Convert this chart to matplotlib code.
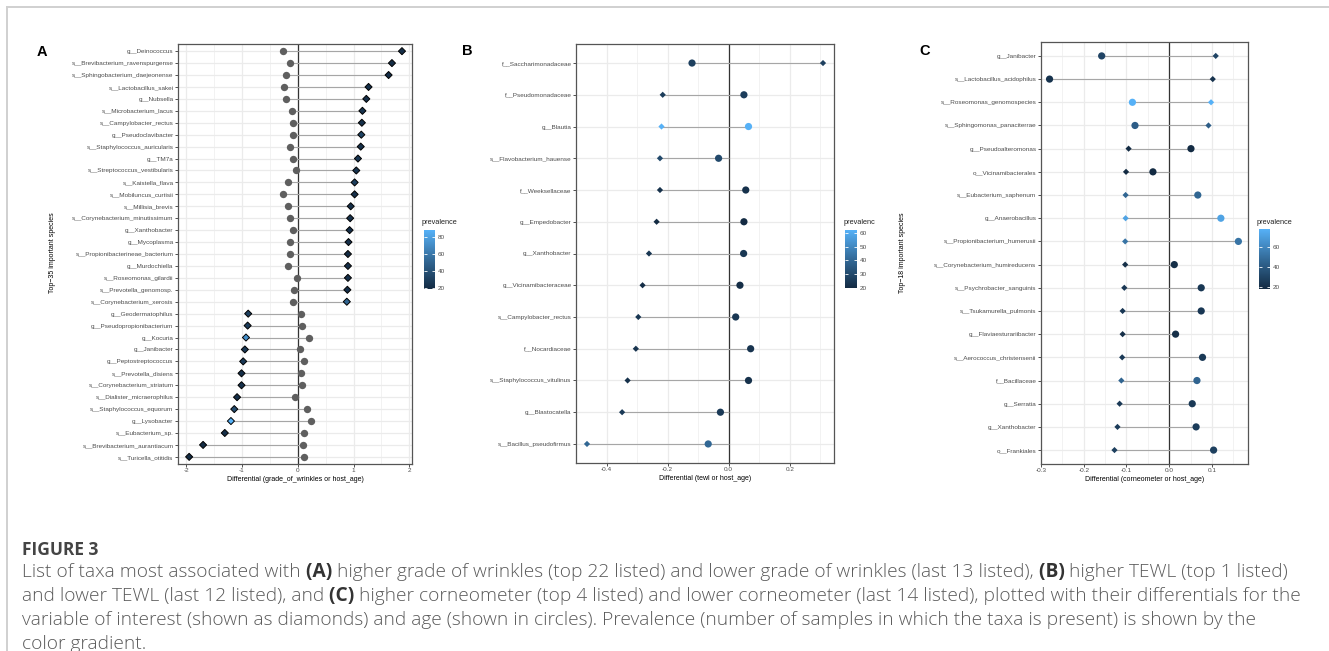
import matplotlib
matplotlib.use("Agg")
import matplotlib.pyplot as plt
import numpy as np
from matplotlib.colors import LinearSegmentedColormap, Normalize
from matplotlib.colorbar import ColorbarBase
from matplotlib.lines import Line2D

# ---------------- data ----------------
a_taxa = ["g__Deinococcus", "s__Brevibacterium_ravenspurgense", "s__Sphingobacterium_daejeonense",
          "s__Lactobacillus_sakei", "g__Nubsella", "s__Microbacterium_lacus", "s__Campylobacter_rectus",
          "g__Pseudoclavibacter", "s__Staphylococcus_auricularis", "g__TM7a",
          "s__Streptococcus_vestibularis", "s__Kaistella_flava", "s__Mobiluncus_curtisii",
          "s__Millisia_brevis", "s__Corynebacterium_minutissimum", "g__Xanthobacter", "g__Mycoplasma",
          "s__Propionibacterineae_bacterium", "g__Murdochiella", "s__Roseomonas_gilardii",
          "s__Prevotella_genomosp.", "s__Corynebacterium_xerosis", "g__Geodermatophilus",
          "g__Pseudopropionibacterium", "g__Kocuria", "g__Janibacter", "g__Peptostreptococcus",
          "s__Prevotella_disiens", "s__Corynebacterium_striatum", "s__Dialister_micraerophilus",
          "s__Staphylococcus_equorum", "g__Lysobacter", "s__Eubacterium_sp.",
          "s__Brevibacterium_aurantiacum", "s__Turicella_otitidis"]
a_wrinkles = [1.87, 1.69, 1.63, 1.27, 1.23, 1.16, 1.15, 1.14, 1.13, 1.08, 1.05, 1.02, 1.02, 0.95,
              0.94, 0.93, 0.91, 0.90, 0.90, 0.90, 0.89, 0.88, -0.89, -0.90, -0.93, -0.95, -0.98,
              -1.01, -1.01, -1.09, -1.14, -1.20, -1.31, -1.70, -1.95]
a_age = [-0.26, -0.14, -0.21, -0.24, -0.21, -0.10, -0.09, -0.08, -0.14, -0.09, -0.04, -0.18, -0.26,
         -0.17, -0.14, -0.08, -0.14, -0.14, -0.18, -0.02, -0.07, -0.08, 0.05, 0.08, 0.20, 0.04, 0.11,
         0.05, 0.08, -0.05, 0.17, 0.23, 0.12, 0.09, 0.11]
a_prev = [21, 20, 21, 22, 21, 24, 22, 32, 22, 25, 24, 30, 22, 21, 22, 21, 22, 20, 21, 22, 21, 50,
          30, 28, 72, 26, 27, 21, 23, 22, 36, 88, 22, 20, 19]

b_taxa = ["f__Saccharimonadaceae", "f__Pseudomonadaceae", "g__Blautia", "s__Flavobacterium_hauense",
          "f__Weeksellaceae", "g__Empedobacter", "g__Xanthobacter", "g__Vicinamibacteraceae",
          "s__Campylobacter_rectus", "f__Nocardiaceae", "s__Staphylococcus_vitulinus",
          "g__Blastocatella", "s__Bacillus_pseudofirmus"]
b_tewl = [0.309, -0.216, -0.220, -0.225, -0.225, -0.236, -0.261, -0.282, -0.296, -0.304, -0.331,
          -0.349, -0.464]
b_age = [-0.120, 0.050, 0.065, -0.033, 0.056, 0.050, 0.049, 0.037, 0.023, 0.072, 0.065, -0.027, -0.067]
b_prev = [27, 26, 62, 30, 22, 20, 24, 21, 24, 23, 22, 25, 40]

c_taxa = ["g__Janibacter", "s__Lactobacillus_acidophilus", "s__Roseomonas_genomospecies",
          "s__Sphingomonas_panaciterrae", "g__Pseudoalteromonas", "o__Vicinamibacterales",
          "s__Eubacterium_saphenum", "g__Anaerobacillus", "s__Propionibacterium_humerusii",
          "s__Corynebacterium_humireducens", "s__Psychrobacter_sanguinis", "s__Tsukamurella_pulmonis",
          "g__Flaviaesturariibacter", "s__Aerococcus_christensenii", "f__Bacillaceae", "g__Serratia",
          "g__Xanthobacter", "o__Frankiales"]
c_corneo = [0.109, 0.102, 0.098, 0.092, -0.095, -0.101, -0.102, -0.102, -0.103, -0.103, -0.105,
            -0.109, -0.109, -0.110, -0.112, -0.116, -0.121, -0.128]
c_age = [-0.158, -0.280, -0.086, -0.080, 0.051, -0.038, 0.067, 0.121, 0.162, 0.012, 0.075, 0.075,
         0.015, 0.078, 0.065, 0.054, 0.063, 0.104]
c_prev = [30, 22, 78, 42, 18, 18, 46, 72, 52, 20, 24, 24, 20, 25, 45, 25, 26, 28]

# ---------------- style ----------------
W, H = 1329, 651
fig = plt.figure(figsize=(W / 100, H / 100), dpi=100)
plt.rcParams['font.family'] = ['Liberation Sans', 'DejaVu Sans']
cmap = LinearSegmentedColormap.from_list("gg", ["#132B43", "#336A98", "#56B1F7"])

TICK_FS = 4.6
TITLE_FS = 5.0
GRID = "#EBEBEB"


def rect_to_fig(l, t, r, b):
    return [l / W, 1 - b / H, (r - l) / W, (b - t) / H]


def panel(rect, taxa, var, age, prev, xlim, majors, minors, ticklabels, xlabel, gray_circles):
    ax = fig.add_axes(rect_to_fig(*rect))
    n = len(taxa)
    y = np.arange(n)[::-1]
    norm = Normalize(min(prev), max(prev))
    cols = cmap(norm(np.array(prev)))
    for m in minors:
        ax.axvline(m, color=GRID, lw=0.45, zorder=0)
    for m in majors:
        ax.axvline(m, color=GRID, lw=0.9, zorder=0)
    for yy in y:
        ax.axhline(yy, color=GRID, lw=0.9, zorder=0)
    ax.axvline(0, color="#333333", lw=0.9, zorder=1)
    v = np.array(var); a = np.array(age)
    lo = np.minimum(np.minimum(v, a), 0)
    hi = np.maximum(np.maximum(v, a), 0)
    ax.hlines(y, lo, hi, color="#A6A6A6", lw=0.8, zorder=2)
    if gray_circles:
        ax.scatter(a, y, s=28, color="#5F5F5F", zorder=3, linewidths=0)
        ax.scatter(v, y, s=13, marker="D", c=cols, edgecolors="black", linewidths=0.7, zorder=4)
    else:
        ax.scatter(a, y, s=27, c=cols, zorder=3, linewidths=0)
        ax.scatter(v, y, s=10, marker="D", c=cols, zorder=4, linewidths=0)
    ax.set_xlim(*xlim)
    ax.set_ylim(-0.6, n - 0.4)
    ax.set_yticks(y)
    ax.set_yticklabels(taxa)
    ax.set_xticks(majors)
    ax.set_xticklabels(ticklabels)
    ax.tick_params(labelsize=TICK_FS, labelcolor="#4D4D4D", length=2, width=0.6, color="#333333", pad=1.2)
    for s in ax.spines.values():
        s.set_color("#555555")
        s.set_linewidth(0.9)
    ax.set_xlabel(xlabel, fontsize=TITLE_FS, labelpad=1.5)
    return ax, norm


def colorbar(rect, norm, ticks, title, tx, ty):
    cax = fig.add_axes(rect_to_fig(*rect))
    cb = ColorbarBase(cax, cmap=cmap, norm=norm, ticks=ticks)
    cb.outline.set_visible(False)
    cax.yaxis.set_ticks_position("both")
    cax.tick_params(direction="in", length=2.2, width=0.6, color="white", labelsize=TICK_FS,
                    labelcolor="#4D4D4D", labelleft=False, labelright=True, pad=2)
    fig.text(tx / W, 1 - ty / H, title, fontsize=5.3, color="#222222", ha="left", va="center")


axA, nA = panel((178, 44, 412, 464), a_taxa, a_wrinkles, a_age, a_prev, (-2.15, 2.05),
                [-2, -1, 0, 1, 2], [-1.5, -0.5, 0.5, 1.5], ["-2", "-1", "0", "1", "2"],
                "Differential (grade_of_wrinkles or host_age)", True)
axB, nB = panel((576, 44, 834, 463), b_taxa, b_tewl, b_age, b_prev, (-0.50, 0.345),
                [-0.4, -0.2, 0.0, 0.2], [-0.5, -0.3, -0.1, 0.1, 0.3], ["-0.4", "-0.2", "0.0", "0.2"],
                "Differential (tewl or host_age)", False)
axC, nC = panel((1041, 42, 1248, 464), c_taxa, c_corneo, c_age, c_prev, (-0.30, 0.1845),
                [-0.3, -0.2, -0.1, 0.0, 0.1], [-0.25, -0.15, -0.05, 0.05, 0.15],
                ["-0.3", "-0.2", "-0.1", "0.0", "0.1"],
                "Differential (corneometer or host_age)", False)

# y-axis titles
fig.text(52 / W, 1 - 253 / H, "Top\u221235 important species", rotation=90, fontsize=TITLE_FS,
         ha="center", va="center")
fig.text(903 / W, 1 - 253 / H, "Top\u221218 important species", rotation=90, fontsize=TITLE_FS,
         ha="center", va="center")

colorbar((424, 230, 435, 289), nA, [20, 40, 60, 80], "prevalence", 422, 223)
colorbar((845, 230, 857, 288), nB, [20, 30, 40, 50, 60], "prevalenc", 844, 222)
colorbar((1259, 229, 1270, 289), nC, [20, 40, 60, 80], "prevalence", 1257, 222)

# panel letters
for lab, x, yv in [("A", 42, 52), ("B", 467, 51), ("C", 925, 51)]:
    fig.text(x / W, 1 - yv / H, lab, fontsize=10.5, fontweight="bold", ha="center", va="center")

# frame
fig.add_artist(Line2D([7 / W, 1], [1 - 7 / H, 1 - 7 / H], transform=fig.transFigure, color="#D0D0D0", lw=1.4))
fig.add_artist(Line2D([7 / W, 7 / W], [0, 1 - 7 / H], transform=fig.transFigure, color="#D0D0D0", lw=1.4))

# caption
CAP_FAM = ["Open Sans", "DejaVu Sans"]
CAP_COL = "#5A5A5A"
CAP_X = 22
renderer = fig.canvas.get_renderer()
fig.text(CAP_X / W, 1 - 555 / H, "FIGURE 3", fontsize=12.5, fontweight="bold", family=CAP_FAM,
         color="#444444", va="baseline")

cap_lines = [
    [("List of taxa most associated with", False), (" (A)", True),
     (" higher grade of wrinkles (top 22 listed) and lower grade of wrinkles (last 13 listed),", False),
     (" (B)", True), (" higher TEWL (top 1 listed)", False)],
    [("and lower TEWL (last 12 listed), and", False), (" (C)", True),
     (" higher corneometer (top 4 listed) and lower corneometer (last 14 listed), plotted with their differentials for the", False)],
    [("variable of interest (shown as diamonds) and age (shown in circles). Prevalence (number of samples in which the taxa is present) is shown by the", False)],
    [("color gradient.", False)],
]
cap_base = [577, 601, 625, 649]
CAP_FS = 13.75
for runs, yb in zip(cap_lines, cap_base):
    x = CAP_X
    for txt, bold in runs:
        t = fig.text(x / W, 1 - yb / H, txt, fontsize=CAP_FS, family=CAP_FAM,
                     fontweight="bold" if bold else "light",
                     color="#333333" if bold else CAP_COL, va="baseline")
        x += t.get_window_extent(renderer).width

fig.savefig("out.png", dpi=100)
